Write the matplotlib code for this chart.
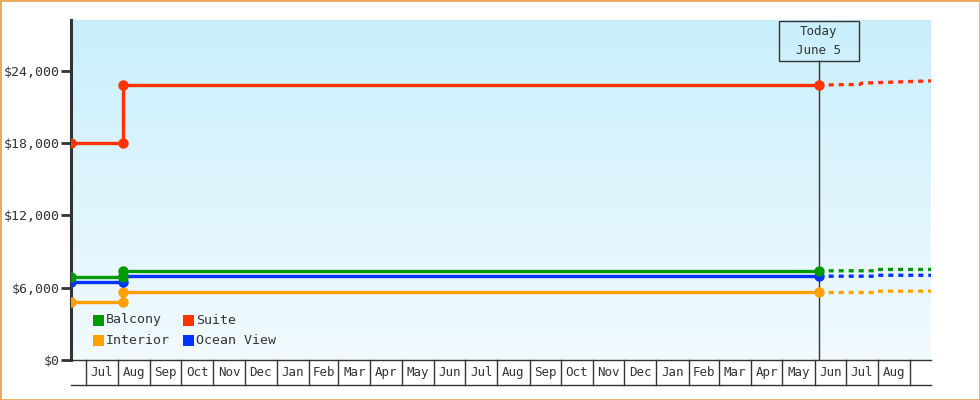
import numpy as np
import pandas as pd
import matplotlib
matplotlib.use("Agg")
import matplotlib.pyplot as plt
import matplotlib.dates as mdates
from matplotlib.patches import Rectangle
from matplotlib.transforms import blended_transform_factory

# ---------------- data ----------------
hist_dates = ["2022-06-17", "2022-08-06", "2022-08-06", "2024-06-05"]
balcony = [6850, 6850, 7400, 7400]
ocean_view = [6500, 6500, 6950, 6950]
interior = [4850, 4850, 5600, 5600]
suite = [18000, 18000, 22800, 22800]

proj_dates = ["2024-06-05", "2024-07-31", "2024-08-01", "2024-09-21"]
balcony_proj = [7400, 7400, 7510, 7510]
ocean_view_proj = [6950, 6950, 7030, 7030]
interior_proj = [5600, 5600, 5710, 5710]
suite_proj_dates = ["2024-06-05", "2024-07-15", "2024-07-16", "2024-09-21"]
suite_proj = [22800, 22860, 22960, 23150]

series_names = ["Balcony", "Suite", "Interior", "Ocean View"]
series_colors = {"Balcony": "#009900", "Suite": "#ff3300",
                 "Interior": "#ffa000", "Ocean View": "#0033ff"}

month_starts = pd.date_range("2022-07-01", "2024-09-01", freq="MS")
month_labels = ["Jul", "Aug", "Sep", "Oct", "Nov", "Dec", "Jan", "Feb", "Mar",
                "Apr", "May", "Jun", "Jul", "Aug", "Sep", "Oct", "Nov", "Dec",
                "Jan", "Feb", "Mar", "Apr", "May", "Jun", "Jul", "Aug"]

y_ticks = [0, 6000, 12000, 18000, 24000]
y_tick_labels = ["$0", "$6,000", "$12,000", "$18,000", "$24,000"]

today = "2024-06-05"
today_label = "Today\nJune 5"
x_start, x_end = "2022-06-17", "2024-09-21"
y_max = 28200

# ---------------- figure ----------------
W, H = 980, 400
fig = plt.figure(figsize=(W / 100, H / 100), dpi=100)
fig.patch.set_facecolor("white")
FONT = "DejaVu Sans Mono"
TXT = "#333333"

ax_l, ax_r, ax_t, ax_b = 71, 931, 20, 360
ax = fig.add_axes([ax_l / W, 1 - ax_b / H, (ax_r - ax_l) / W, (ax_b - ax_t) / H])

hd = pd.to_datetime(hist_dates)
pdts = pd.to_datetime(proj_dates)
spd = pd.to_datetime(suite_proj_dates)
xs, xe = mdates.date2num(pd.Timestamp(x_start)), mdates.date2num(pd.Timestamp(x_end))
ax.set_xlim(xs, xe)
ax.set_ylim(0, y_max)

# gradient background
grad = np.linspace(0, 1, 256).reshape(-1, 1)
top = np.array([0xc9, 0xef, 0xfc]) / 255
bot = np.array([0xf2, 0xfa, 0xfe]) / 255
img = top[None, None, :] * (1 - grad[..., None]) + bot[None, None, :] * grad[..., None]
ax.imshow(img, extent=[xs, xe, 0, y_max], aspect="auto", origin="upper", zorder=0)
ax.set_xlim(xs, xe)
ax.set_ylim(0, y_max)

plt.rcParams["lines.scale_dashes"] = False
dash = (0, (3.6, 3.6))

hist = {"Balcony": balcony, "Suite": suite, "Interior": interior, "Ocean View": ocean_view}
proj = {"Balcony": (pdts, balcony_proj), "Suite": (spd, suite_proj),
        "Interior": (pdts, interior_proj), "Ocean View": (pdts, ocean_view_proj)}

# today line
td = mdates.date2num(pd.Timestamp(today))
box_bottom_frac = (ax_b - 61) / (ax_b - ax_t)
ax.plot([td, td], [0, y_max * box_bottom_frac], color=TXT, lw=1.0, zorder=2)

order = ["Interior", "Ocean View", "Balcony", "Suite"]
for name in order:
    c = series_colors[name]
    ax.plot(hd, hist[name], color=c, lw=2.4, marker="o", ms=6.5, mec=c, mfc=c,
            zorder=3, solid_joinstyle="miter")
    d, v = proj[name]
    ax.plot(d, v, color=c, lw=2.4, linestyle=dash, zorder=3)

# today box
fx = lambda px: px / W
fy = lambda py: 1 - py / H
fig.patches.append(Rectangle((fx(778.5), fy(60.5)), (858.5 - 778.5) / W, (60.5 - 20.5) / H,
                             transform=fig.transFigure, fill=False, ec=TXT, lw=1.0))
fig.text(fx(818.5), fy(32), "Today", ha="center", va="center", family=FONT, fontsize=9, color=TXT)
fig.text(fx(818.5), fy(50), "June 5", ha="center", va="center", family=FONT, fontsize=9, color=TXT)

# axes styling
for s in ["top", "right"]:
    ax.spines[s].set_visible(False)
ax.spines["left"].set_color(TXT)
ax.spines["left"].set_linewidth(2.2)
ax.spines["bottom"].set_color(TXT)
ax.spines["bottom"].set_linewidth(1.0)
ax.set_yticks(y_ticks)
ax.set_yticklabels(y_tick_labels, family=FONT, fontsize=9.5, color=TXT)
ax.tick_params(axis="y", length=7, width=2, color=TXT, pad=1)
ax.set_xticks([])

# month cells under the axis
trans = blended_transform_factory(ax.transData, ax.transAxes)
cell_h = 25 / (ax_b - ax_t)
bounds = list(month_starts)
for b in bounds[:-1] + [bounds[-1]]:
    xb = mdates.date2num(b)
    if xs < xb < xe:
        ax.plot([xb, xb], [0, -cell_h], color=TXT, lw=1.0, transform=trans, clip_on=False)
ax.plot([xs, xe], [-cell_h, -cell_h], color=TXT, lw=1.0, transform=trans, clip_on=False)
for i, lab in enumerate(month_labels):
    a = mdates.date2num(bounds[i])
    b = mdates.date2num(bounds[i + 1])
    ax.text((a + b) / 2, -cell_h / 2, lab, transform=trans, ha="center", va="center",
            family=FONT, fontsize=9, color=TXT)

# legend
leg_items = [("Balcony", 93, 320), ("Suite", 183, 320), ("Interior", 93, 340), ("Ocean View", 183, 340)]
for name, px, py in leg_items:
    fig.patches.append(Rectangle((fx(px), fy(py + 5.5)), 11 / W, 11 / H,
                                 transform=fig.transFigure, color=series_colors[name], lw=0))
    fig.text(fx(px + 13), fy(py), name, ha="left", va="center", family=FONT, fontsize=9.5, color=TXT)

# outer border
fig.patches.append(Rectangle((0, 0), 1, 1, transform=fig.transFigure, fill=False,
                             ec="#e8a85a", lw=2.0))

fig.savefig("out.png", dpi=100)
